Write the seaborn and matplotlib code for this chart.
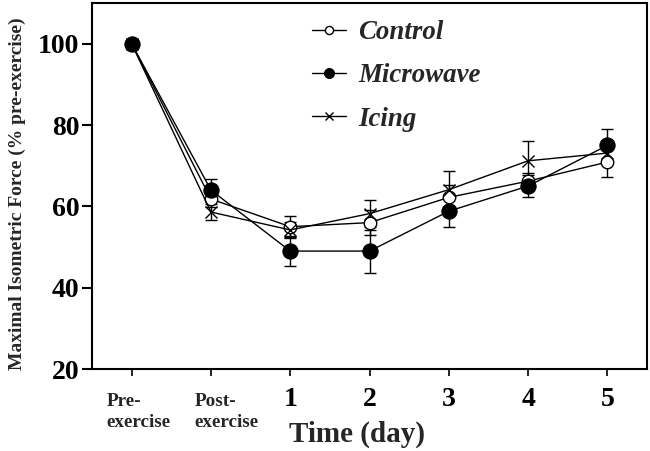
import matplotlib
matplotlib.use("Agg")
import matplotlib.pyplot as plt
import seaborn as sns
import pandas as pd
import numpy as np

categories = ["Pre-\nexercise", "Post-\nexercise", "1", "2", "3", "4", "5"]
control = [100, 61.8, 55.0, 56.0, 62.2, 66.2, 70.9]
control_err = [0, 2.0, 2.6, 3.0, 3.0, 2.0, 3.6]
microwave = [100, 64.0, 49.0, 49.0, 58.8, 65.0, 75.0]
microwave_err = [0, 2.7, 3.6, 5.3, 3.9, 2.7, 3.9]
icing = [100, 58.6, 54.2, 58.2, 64.1, 71.2, 73.1]
icing_err = [0, 2.0, 2.0, 3.4, 4.6, 4.9, 2.0]

sns.set_theme(style="ticks")
plt.rcParams['font.family'] = ['Liberation Serif', 'DejaVu Serif']
plt.rcParams['font.weight'] = 'bold'

fig = plt.figure(figsize=(6.5, 4.51), dpi=100)
ax = fig.add_axes([0.1415, 0.1818, 0.854, 0.8115])

x = np.arange(len(categories))
series = [
    ("Control", control, control_err, dict(marker="o", markersize=9, markerfacecolor="white", markeredgecolor="black", markeredgewidth=1.0)),
    ("Microwave", microwave, microwave_err, dict(marker="o", markersize=11, markerfacecolor="black", markeredgecolor="black")),
    ("Icing", icing, icing_err, dict(marker="x", markersize=8, markeredgecolor="black", markeredgewidth=1.0)),
]

for name, vals, errs, style in series:
    df = pd.DataFrame({"pos": x, "value": vals})
    ax.errorbar(x, vals, yerr=errs, fmt="none", ecolor="black", elinewidth=1.0, capsize=4, capthick=1.0, zorder=1)
    sns.lineplot(data=df, x="pos", y="value", ax=ax, color="black", linewidth=1.0, label=name, zorder=3, **style)

ax.set_xlim(-0.5, 6.5)
ax.set_ylim(20, 110)
ax.set_yticks([20, 40, 60, 80, 100])
ax.set_yticklabels(["20", "40", "60", "80", "100"], fontsize=20, fontweight="bold")
ax.set_xticks(x)
ax.set_xticklabels([c if i >= 2 else "" for i, c in enumerate(categories)], fontsize=20, fontweight="bold")

# two-line category labels, left aligned under their ticks
offsets = [-18, -12]
for i in range(2):
    ax.annotate(categories[i], xy=(x[i], 0), xycoords=("data", "axes fraction"),
                xytext=(offsets[i], -17.5), textcoords="offset points",
                ha="left", va="top", fontsize=13.8, fontweight="bold",
                multialignment="left", linespacing=1.32)

ax.tick_params(axis="y", direction="out", length=7, width=1.5, pad=2, colors="black")
ax.tick_params(axis="x", direction="out", length=5, width=1.2, pad=8, colors="black")
for s in ax.spines.values():
    s.set_linewidth(1.5)
    s.set_color("black")

ax.set_xlabel("Time (day)", fontsize=21, fontweight="bold")
ax.xaxis.set_label_coords(0.478, -0.142)
ax.set_ylabel("Maximal Isometric Force (% pre-exercise)", fontsize=14.0, fontweight="bold")
ax.yaxis.set_label_coords(-0.118, 0.478)

leg = ax.legend(loc="upper left", bbox_to_anchor=(0.353, 1.02), frameon=False, markerscale=0.65,
                prop={"family": "Liberation Serif", "weight": "bold", "style": "italic", "size": 19.4},
                handlelength=1.25, handletextpad=0.45, labelspacing=0.68)

fig.savefig("out.png", dpi=100)
